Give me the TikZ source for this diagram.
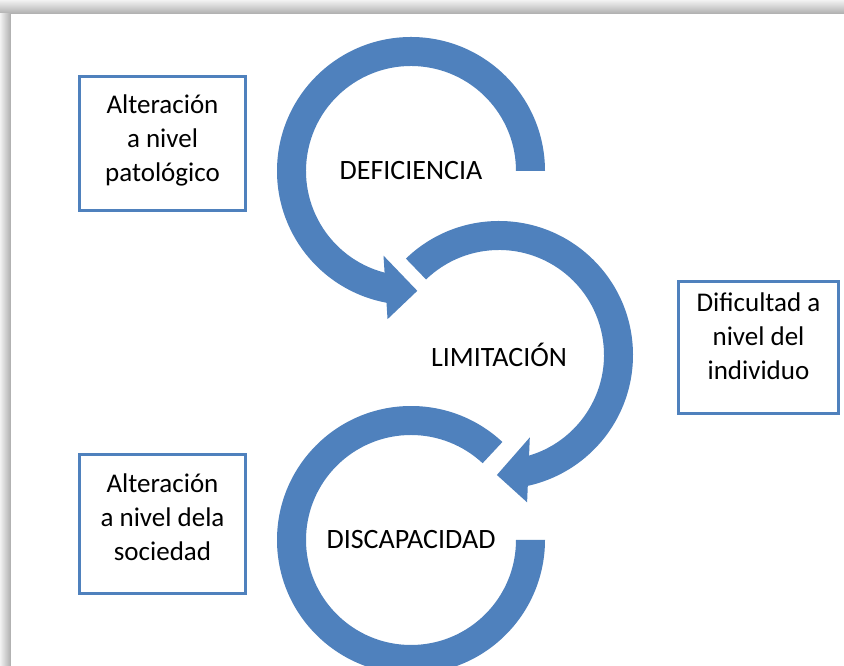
\documentclass[tikz,border=0pt]{standalone}
\usepackage{fontspec}
\setmainfont{Carlito}

\definecolor{ringblue}{RGB}{79,129,189}
\tikzset{
    ring/.style = {fill = ringblue},
    stage/.style = {font = \fontsize{28}{34}\selectfont},
    note/.style = {draw = ringblue, line width = 3pt, fill = white, align = center,
        inner sep = 0pt, font = \fontsize{27}{34}\selectfont}
}

\begin{document}
\begin{tikzpicture}[x = 1pt, y = 1pt]
    \useasboundingbox (0,0) rectangle (844,666);
    % page and its shadow
    \shade[left color = gray!10, right color = gray!60] (0,0) rectangle (10,666);
    \shade[top color = gray!10, bottom color = gray!60] (0,653) rectangle (844,666);
    \fill[white] (10,0) rectangle (844,653);
    \draw[gray!60, line width = 0.8pt] (10,0) -- (10,653) -- (844,653);

    \coordinate (c1) at (411,495);
    \coordinate (c2) at (499,311);
    \coordinate (c3) at (411,126);

    % deficiencia
    \fill[ring] ([shift = {(c1)}] 0:134) arc[start angle = 0, end angle = 261, radius = 134]
        -- ([shift = {(c1)}] 261:105) arc[start angle = 261, end angle = 0, radius = 105] -- cycle;
    \fill[ring] ([shift = {(c1)}] 252:89) -- ([shift = {(c1)}] 261:150) -- ([shift = {(c1)}] 273:120) -- cycle;
    % limitacion
    \fill[ring] ([shift = {(c2)}] 134:134) arc[start angle = 134, end angle = -79, radius = 134]
        -- ([shift = {(c2)}] -79:105) arc[start angle = -79, end angle = 134, radius = 105] -- cycle;
    \fill[ring] ([shift = {(c2)}] 290.5:88) -- ([shift = {(c2)}] 280.8:150) -- ([shift = {(c2)}] 269:120) -- cycle;
    % discapacidad
    \fill[ring] ([shift = {(c3)}] 47:134) arc[start angle = 47, end angle = 360, radius = 134]
        -- ([shift = {(c3)}] 0:105) arc[start angle = 360, end angle = 47, radius = 105] -- cycle;

    \node[stage] (def) at (c1) {DEFICIENCIA};
    \node[stage] (lim) at (c2) {LIMITACIÓN};
    \node[stage] (dis) at (c3) {DISCAPACIDAD};

    \node[note, text depth = 11pt, minimum width = 166pt, minimum height = 134pt] (pat) at (162.5,522.5) {Alteración\\a nivel\\patológico};
    \node[note, text depth = 22pt, minimum width = 160pt, minimum height = 132pt] (ind) at (758.5,318.5) {Dificultad a\\nivel del\\individuo};
    \node[note, text depth = 13pt, minimum width = 166pt, minimum height = 139pt] (soc) at (162.5,142) {Alteración\\a nivel dela\\sociedad};
\end{tikzpicture}
\end{document}
